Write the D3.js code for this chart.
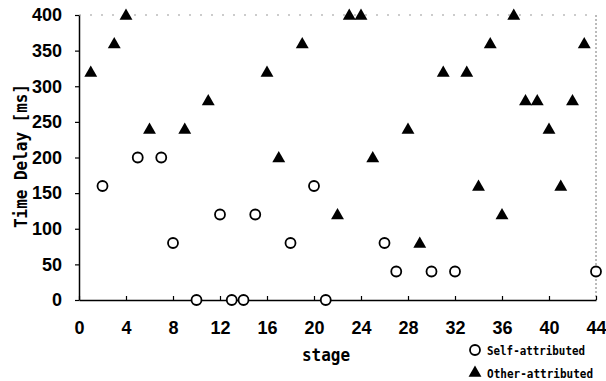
<!DOCTYPE html>
<html>
<head>
<meta charset="utf-8">
<script src="https://cdn.jsdelivr.net/npm/d3@7"></script>
<style>
  body { margin: 0; background: #fff; }
  svg { display: block; }
  .tick-label { font-family: "Liberation Sans Narrow", "Liberation Sans", sans-serif; font-weight: bold; font-size: 18px; }
  .mono { font-family: "DejaVu Sans Mono", "Liberation Mono", monospace; font-weight: bold; }
</style>
</head>
<body>
<div id="chart"></div>
<script>
// Self-attributed stages and delays (ms)
const selfStages = [2, 5, 7, 8, 10, 12, 13, 14, 15, 18, 20, 21, 26, 27, 30, 32, 44];
const selfDelays = [160, 200, 200, 80, 0, 120, 0, 0, 120, 80, 160, 0, 80, 40, 40, 40, 40];

// Other-attributed stages and delays (ms)
const otherStages = [1, 3, 4, 6, 9, 11, 16, 17, 19, 22, 23, 24, 25, 28, 29, 31, 33, 34, 35, 36, 37, 38, 39, 40, 41, 42, 43];
const otherDelays = [320, 360, 400, 240, 240, 280, 320, 200, 360, 120, 400, 400, 200, 240, 80, 320, 320, 160, 360, 120, 400, 280, 280, 240, 160, 280, 360];

const xTicks = [0, 4, 8, 12, 16, 20, 24, 28, 32, 36, 40, 44];
const yTicks = [0, 50, 100, 150, 200, 250, 300, 350, 400];

const W = 606, H = 381;
const margin = { top: 15, right: 10, bottom: 81, left: 79 };
const width = W - margin.left - margin.right;
const height = H - margin.top - margin.bottom;

const svg = d3.select("#chart").append("svg")
  .attr("width", W)
  .attr("height", H);

const x = d3.scaleLinear().domain([0, 44]).range([0, width]);
const y = d3.scaleLinear().domain([0, 400]).range([height, 0]);

const g = svg.append("g")
  .attr("transform", `translate(${margin.left},${margin.top})`);

// faint top and right frame
g.append("line")
  .attr("x1", 0).attr("x2", width)
  .attr("y1", 0).attr("y2", 0)
  .attr("stroke", "#999")
  .attr("stroke-width", 1)
  .attr("stroke-dasharray", "2,9");
g.append("line")
  .attr("x1", width).attr("x2", width)
  .attr("y1", 0).attr("y2", height)
  .attr("stroke", "#777")
  .attr("stroke-width", 1)
  .attr("stroke-dasharray", "2,2");

// x axis, ticks pointing inward
const xAxis = g.append("g")
  .attr("transform", `translate(0,${height})`)
  .call(d3.axisBottom(x).tickValues(xTicks).tickSizeInner(-4).tickSizeOuter(0).tickPadding(21));
xAxis.select(".domain").attr("stroke", "#000").attr("stroke-width", 1.5);
xAxis.selectAll(".tick line").attr("stroke", "#000").attr("stroke-width", 1.2);
xAxis.selectAll(".tick text").attr("class", "tick-label").attr("fill", "#000");

// y axis, short ticks pointing outward
const yAxis = g.append("g")
  .call(d3.axisLeft(y).tickValues(yTicks).tickSizeInner(4).tickSizeOuter(0).tickPadding(13));
yAxis.select(".domain").attr("stroke", "#000").attr("stroke-width", 1.5);
yAxis.selectAll(".tick line").attr("stroke", "#000").attr("stroke-width", 1.2);
yAxis.selectAll(".tick text").attr("class", "tick-label").attr("fill", "#000");

// axis titles
svg.append("text")
  .attr("class", "mono")
  .attr("transform", "translate(27,156) rotate(-90)")
  .attr("text-anchor", "middle")
  .attr("font-size", 17)
  .attr("textLength", 144)
  .attr("lengthAdjust", "spacingAndGlyphs")
  .text("Time Delay [ms]");

svg.append("text")
  .attr("class", "mono")
  .attr("x", 326)
  .attr("y", 361)
  .attr("text-anchor", "middle")
  .attr("font-size", 18)
  .attr("textLength", 48)
  .attr("lengthAdjust", "spacingAndGlyphs")
  .text("stage");

const tri = d3.symbol().type(d3.symbolTriangle).size(72);

// other-attributed: filled triangles
g.selectAll(".other")
  .data(otherStages.map((s, i) => [s, otherDelays[i]]))
  .join("path")
  .attr("class", "other")
  .attr("d", tri)
  .attr("transform", d => `translate(${x(d[0])},${y(d[1]) + 1})`)
  .attr("fill", "#000");

// self-attributed: open circles
g.selectAll(".self")
  .data(selfStages.map((s, i) => [s, selfDelays[i]]))
  .join("circle")
  .attr("class", "self")
  .attr("cx", d => x(d[0]))
  .attr("cy", d => y(d[1]))
  .attr("r", 5)
  .attr("fill", "#fff")
  .attr("stroke", "#000")
  .attr("stroke-width", 1.8);

// legend
const legend = svg.append("g");
legend.append("circle")
  .attr("cx", 475).attr("cy", 350).attr("r", 5)
  .attr("fill", "#fff").attr("stroke", "#000").attr("stroke-width", 1.8);
legend.append("text")
  .attr("class", "mono")
  .attr("x", 487).attr("y", 355)
  .attr("font-size", 12)
  .attr("textLength", 98)
  .attr("lengthAdjust", "spacingAndGlyphs")
  .text("Self-attributed");
legend.append("path")
  .attr("d", tri)
  .attr("transform", "translate(475,373)")
  .attr("fill", "#000");
legend.append("text")
  .attr("class", "mono")
  .attr("x", 487).attr("y", 378)
  .attr("font-size", 12)
  .attr("textLength", 106)
  .attr("lengthAdjust", "spacingAndGlyphs")
  .text("Other-attributed");
</script>
</body>
</html>
